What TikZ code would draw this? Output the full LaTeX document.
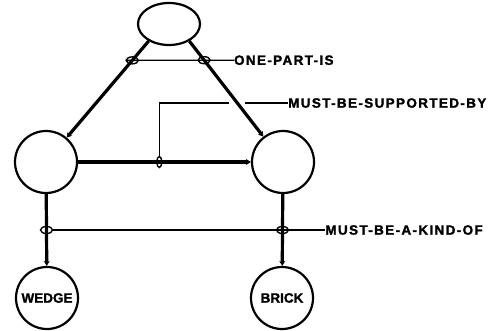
\documentclass[tikz,border=0pt]{standalone}
\usepackage{fontspec}
\setmainfont{Liberation Sans}[BoldFeatures={FakeBold=1.6}]
\newfontfamily\relfont{Liberation Sans}[LetterSpace=10,
    BoldFeatures={FakeBold=1.6}]
\usetikzlibrary{arrows.meta,positioning,shapes.geometric}

\begin{document}
\begin{tikzpicture}[x=1pt, y=-1pt,
    font=\fontsize{13.5}{14}\selectfont\bfseries,
    obj/.style={draw, circle, line width=2.2pt, minimum size=62pt, inner sep=0pt},
    link/.style={line width=3.2pt, -{Stealth[length=5pt,width=6pt]}},
    hring/.style={draw, ellipse, line width=1.4pt, inner sep=0pt,
        minimum width=12pt, minimum height=7pt},
    vring/.style={draw, ellipse, line width=1.4pt, inner sep=0pt,
        minimum width=5pt, minimum height=11pt},
    attr/.style={line width=1.3pt},
    rel/.style={anchor=west, inner sep=0pt,
        font=\fontsize{13.5}{14}\relfont\bfseries}]
    \useasboundingbox (0,0) rectangle (494,331);
    % objects
    \node[draw, ellipse, line width=2.2pt, minimum width=62pt,
        minimum height=42pt] (whole) at (169,24) {};
    \node[obj] (left) at (46,162) {};
    \node[obj] (right) at (283,162) {};
    \node[obj] (wedge) at (47,298) {WEDGE};
    \node[obj] (brick) at (282,298) {BRICK};
    % pointers
    \draw[link] (whole.220) -- node[hring, pos=.2] (p1) {} (left);
    \draw[link] (whole.320) -- node[hring, pos=.2] (p2) {} (right);
    \draw[link] (left) -- node[vring, pos=.47] (s1) {} (right);
    \draw[link] (left) -- node[hring, pos=.5] (k1) {} (wedge);
    \draw[link] (right) -- node[hring, pos=.5] (k2) {} (brick);
    % relations
    \node[rel, right=23pt of p2] (onepart) {ONE-PART-IS};
    \draw[attr] (p1.west) -- (onepart.west);
    \node[rel] (support) at (288,103) {MUST-BE-SUPPORTED-BY};
    \coordinate (hopL) at (229,103);
    \coordinate (hopR) at (245,103);
    \draw[attr] (s1.north) |- (hopL);
    \draw[attr] (hopR) -- (support.west);
    \node[rel, right=36pt of k2] (kind) {MUST-BE-A-KIND-OF};
    \draw[attr] (k1.east) -- (kind.west);
\end{tikzpicture}
\end{document}
